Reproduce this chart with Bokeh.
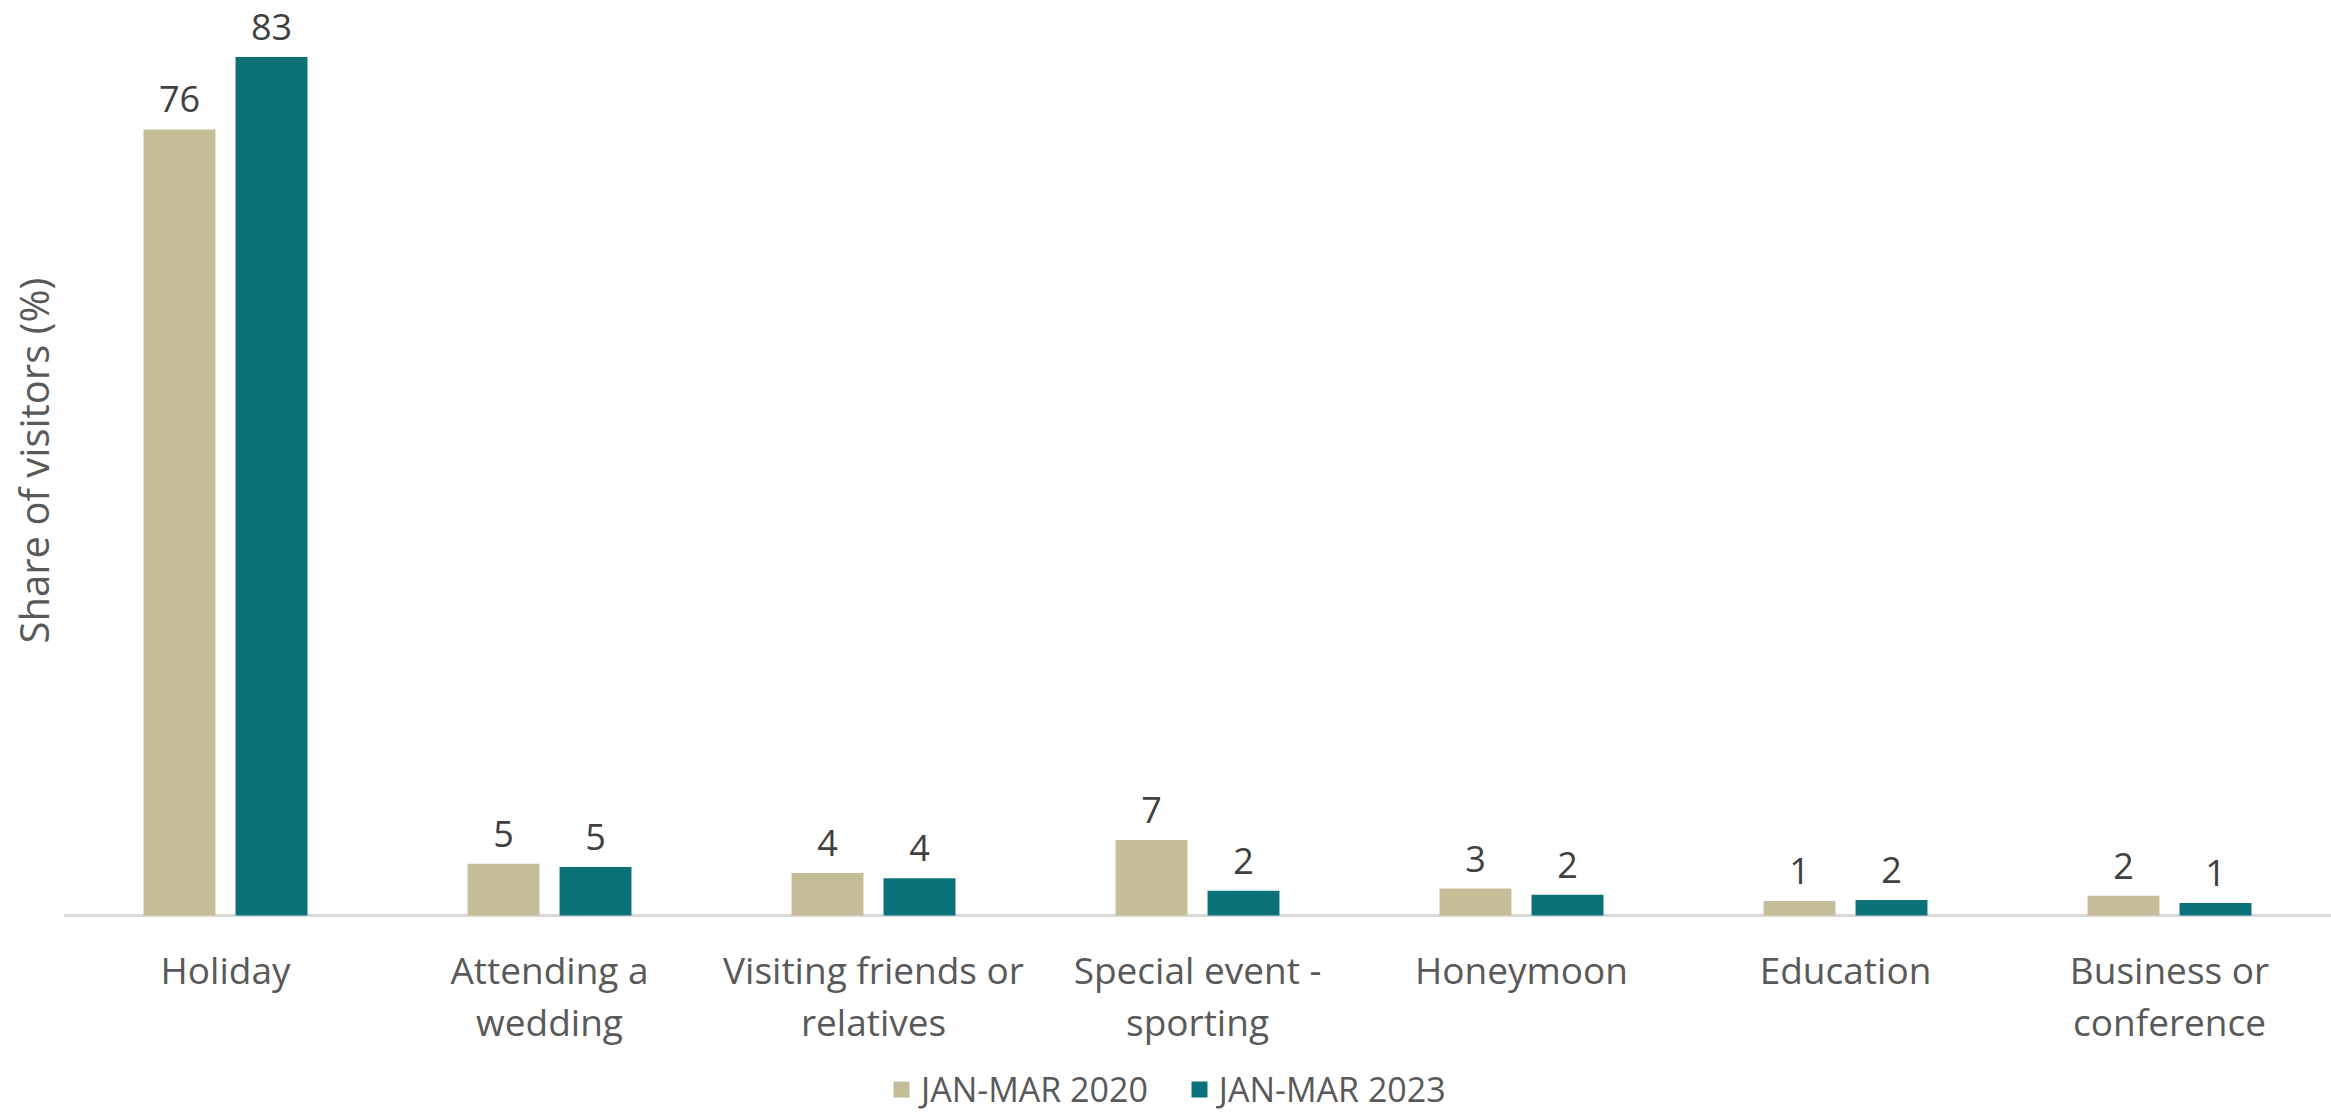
from bokeh.plotting import figure
from bokeh.models import (ColumnDataSource, FactorRange, Range1d, Legend, LegendItem,
                          Span, Title)
from bokeh.transform import dodge
from bokeh.core.properties import value
from bokeh.embed import file_html
from bokeh.resources import INLINE

categories = ["Holiday", "Attending a wedding", "Visiting friends or relatives",
              "Special event - sporting", "Honeymoon", "Education", "Business or conference"]
tick_line1 = ["Holiday", "Attending a", "Visiting friends or",
              "Special event -", "Honeymoon", "Education", "Business or"]
tick_line2 = ["", "wedding", "relatives", "sporting", "", "", "conference"]
series_names = ["JAN-MAR 2020", "JAN-MAR 2023"]
values_2020 = [76, 5.0, 4.1, 7.3, 2.6, 1.4, 1.9]
values_2023 = [83, 4.7, 3.6, 2.4, 2.0, 1.5, 1.2]
labels_2020 = ["76", "5", "4", "7", "3", "1", "2"]
labels_2023 = ["83", "5", "4", "2", "2", "2", "1"]
y_title = "Share of visitors (%)"

TAN = "#C4BD97"
TEAL = "#0B727A"
FONT = "Open Sans"

src = ColumnDataSource(dict(cat=categories, v20=values_2020, v23=values_2023,
                            l20=labels_2020, l23=labels_2023,
                            t1=tick_line1, t2=tick_line2, zero=[0] * len(categories)))

p = figure(width=2331, height=1113, output_backend="svg", toolbar_location=None,
           x_range=FactorRange(factors=categories, range_padding=0),
           y_range=Range1d(-19.145, 88.47),
           x_axis_location=None, y_axis_location=None,
           min_border_left=63, min_border_right=0, min_border_top=0, min_border_bottom=0)
p.outline_line_color = None
p.grid.visible = False
p.background_fill_color = "white"

baseline = Span(location=0, dimension="width", line_color="#D9D9D9", line_width=3,
                level="underlay")
p.add_layout(baseline)

r20 = p.vbar(x=dodge("cat", -0.142, range=p.x_range), top="v20", width=0.222,
             source=src, fill_color=TAN, line_color=None)
r23 = p.vbar(x=dodge("cat", 0.142, range=p.x_range), top="v23", width=0.222,
             source=src, fill_color=TEAL, line_color=None)

for off, col, vcol in ((-0.142, "l20", "v20"), (0.142, "l23", "v23")):
    p.text(x=dodge("cat", off, range=p.x_range), y=vcol, text=col, source=src,
           text_align="center", text_baseline="alphabetic", y_offset=-30,
           text_font=value(FONT), text_font_size="36px", text_color="#404040")

# category (tick) labels, two lines
for col, off in (("t1", 54), ("t2", 106)):
    p.text(x="cat", y="zero", text=col, source=src, y_offset=off,
           text_align="center", text_baseline="alphabetic",
           text_font=value(FONT), text_font_size="37px", text_color="#595959")

title = Title(text=y_title, align="left", offset=470, standoff=6,
              text_font=FONT, text_font_size="40px", text_font_style="normal",
              text_color="#595959")
p.add_layout(title, "left")

legend = Legend(items=[LegendItem(label=series_names[0], renderers=[r20]),
                       LegendItem(label=series_names[1], renderers=[r23])],
                orientation="horizontal", location=(828, 1),
                glyph_width=20, glyph_height=20, label_standoff=10, spacing=41,
                label_text_font=FONT, label_text_font_size="34px", label_text_color="#595959",
                border_line_color=None, background_fill_alpha=0, padding=0, margin=0)
p.add_layout(legend)

open("out.html", "w").write(file_html(p, INLINE))
